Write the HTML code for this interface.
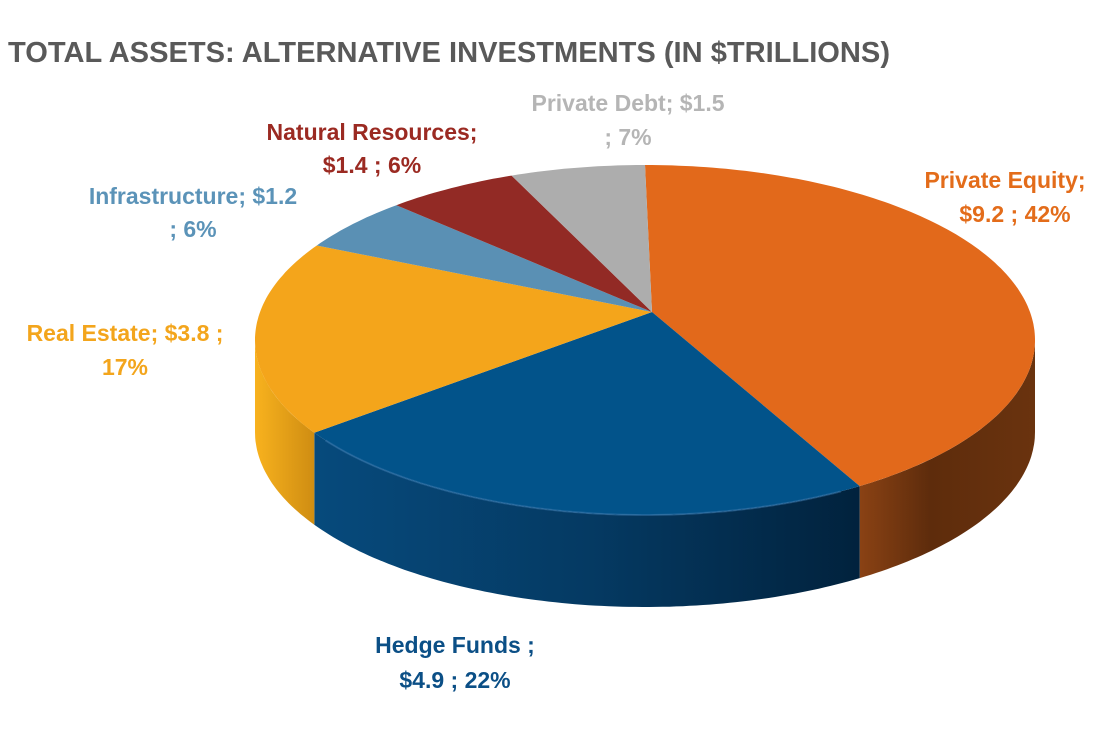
<!DOCTYPE html>
<html><head><meta charset="utf-8"><style>
html,body{margin:0;padding:0;background:#fff;}
svg{display:block;}
text{font-family:"Liberation Sans",sans-serif;font-weight:bold;}
</style></head><body>
<svg id="s" width="1110" height="735" viewBox="0 0 1110 735">
<defs>
<linearGradient id="gPE" x1="0" x2="1" y1="0" y2="0"><stop offset="0" stop-color="#8a4214"/><stop offset="0.4" stop-color="#5e2c0c"/><stop offset="1" stop-color="#6a330e"/></linearGradient>
<linearGradient id="gHF" x1="0" x2="1" y1="0" y2="0"><stop offset="0" stop-color="#064a7c"/><stop offset="0.5" stop-color="#053a63"/><stop offset="1" stop-color="#01223d"/></linearGradient>
<linearGradient id="gRE" x1="0" x2="1" y1="0" y2="0"><stop offset="0" stop-color="#f8b21e"/><stop offset="1" stop-color="#cf8d12"/></linearGradient>
</defs>
<g id="pie"></g>
<text x="8" y="62" font-size="29" fill="#595959" textLength="882" lengthAdjust="spacingAndGlyphs">TOTAL ASSETS: ALTERNATIVE INVESTMENTS (IN $TRILLIONS)</text>
<g font-size="23" text-anchor="middle">
<text x="628" y="111" fill="#b5b5b5">Private Debt;  $1.5</text>
<text x="628" y="145" fill="#b5b5b5">; 7%</text>
<text x="372" y="140" fill="#9b2a22">Natural Resources;</text>
<text x="372" y="173" fill="#9b2a22">$1.4 ; 6%</text>
<text x="193" y="204" fill="#5b93b8">Infrastructure;  $1.2</text>
<text x="193" y="237" fill="#5b93b8">; 6%</text>
<text x="125" y="341" fill="#f3a51c">Real Estate;  $3.8 ;</text>
<text x="125" y="375" fill="#f3a51c">17%</text>
<text x="1005" y="188" fill="#e36c1a">Private Equity;</text>
<text x="1015" y="222" fill="#e36c1a">$9.2 ; 42%</text>
<text x="455" y="653" fill="#0b4f86">Hedge Funds ;</text>
<text x="455" y="688" fill="#0b4f86">$4.9 ; 22%</text>
</g>
</svg>
<script>
var cx=645,cy=340,rx=390,ry=175,H=92,ax=652,ay=312;
function P(t,d){var r=t*Math.PI/180;return [cx+rx*Math.sin(r),cy-ry*Math.cos(r)+(d||0)];}
function arc(a,b,d){var s="",n=Math.max(4,Math.ceil(Math.abs(b-a)));for(var i=0;i<=n;i++){var p=P(a+(b-a)*i/n,d);s+=" L"+p[0].toFixed(1)+","+p[1].toFixed(1);}return s;}
var g=document.getElementById("pie"),out="";
function side(a,b,f){out+='<path d="M'+P(a)[0]+','+P(a)[1]+arc(a,b,0)+arc(b,a,H)+' Z" fill="'+f+'"/>';}
side(90,146.6,"url(#gPE)");side(146.6,238,"url(#gHF)");side(238,270,"url(#gRE)");
var sl=[[0,146.6,"#e2691b"],[146.6,238,"#02538a"],[238,302.7,"#f4a51b"],[302.7,320.4,"#5a90b4"],[320.4,340,"#922a25"],[340,360,"#adadad"]];
sl.forEach(function(s){out+='<path d="M'+ax+','+ay+arc(s[0],s[1],0)+' Z" fill="'+s[2]+'"/>';});
out+='<path d="M'+P(150)[0]+','+P(150)[1]+arc(150,235,0)+'" fill="none" stroke="#3a78ad" stroke-width="2" opacity="0.5"/>';
g.innerHTML=out;
</script>
</body></html>
